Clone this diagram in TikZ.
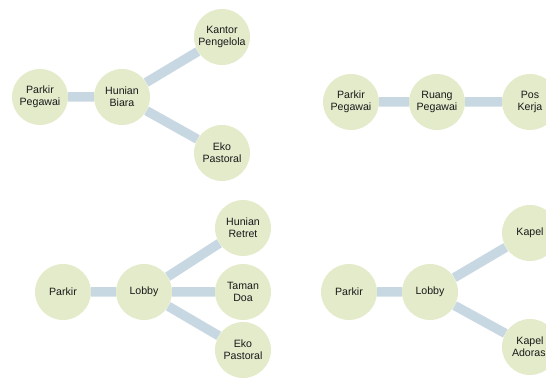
\documentclass[tikz,border=0pt]{standalone}
\usepackage{fontspec}
\setmainfont{Liberation Sans}
\definecolor{nodefill}{HTML}{E3EBCB}
\definecolor{linkcol}{HTML}{C8D8E2}
\tikzset{
  room/.style={circle, fill=nodefill, draw=none, minimum size=56pt, inner sep=0pt, align=center, font=\fontsize{10.6}{12.3}\selectfont, text=black!90},
  link/.style={draw=linkcol, line width=9.5pt}
}
\begin{document}
\begin{tikzpicture}[x=1pt,y=-1pt]
\useasboundingbox (0,0) rectangle (546,379);
\clip (0,0) rectangle (546,379);
% panel 1
\node[room] (a1) at (40,97) {Parkir\\Pegawai};
\node[room] (a2) at (122,97) {Hunian\\Biara};
\node[room] (a3) at (222,37) {Kantor\\Pengelola};
\node[room] (a4) at (222,153) {Eko\\Pastoral};
% panel 2
\node[room] (b1) at (351,102) {Parkir\\Pegawai};
\node[room] (b2) at (437,102) {Ruang\\Pegawai};
\node[room] (b3) at (530,102) {Pos\\Kerja};
% panel 3
\node[room] (c1) at (63,292) {Parkir};
\node[room] (c2) at (144,292) {Lobby};
\node[room] (c3) at (243,228) {Hunian\\Retret};
\node[room] (c4) at (243,292) {Taman\\Doa};
\node[room] (c5) at (243,350) {Eko\\Pastoral};
% panel 4
\node[room] (d1) at (349,292) {Parkir};
\node[room] (d2) at (430,292) {Lobby};
\node[room] (d3) at (530,233) {Kapel};
\node[room] (d4) at (530,347) {Kapel\\Adorasi};
\path[link] (a1) -- (a2) (a2) -- (a3) (a2) -- (a4)
  (b1) -- (b2) (b2) -- (b3)
  (c1) -- (c2) (c2) -- (c3) (c2) -- (c4) (c2) -- (c5)
  (d1) -- (d2) (d2) -- (d3) (d2) -- (d4);
\end{tikzpicture}
\end{document}
